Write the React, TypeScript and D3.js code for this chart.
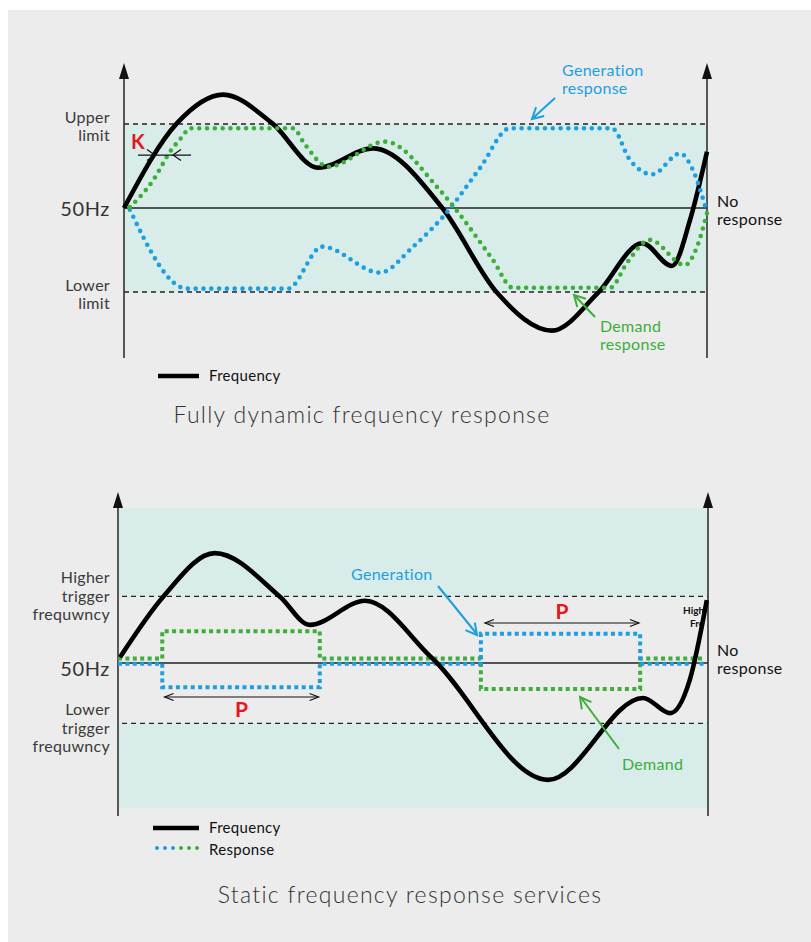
import React from "react";
import * as d3 from "d3";

// ---------------- Top chart: fully dynamic (time 0–100, deviation in units of limit) -------------
const topFreqT = [0, 9.1, 17, 25.4, 33.3, 42.7, 54.6, 64, 73.4, 81.3, 88.9, 94, 97.1, 100];
const topFreqV = [0, 1.01, 1.35, 1.01, 0.48, 0.71, 0, -1.01, -1.46, -1.01, -0.42, -0.69, -0.14, 0.67];

const topDemandT = [1, 5, 7.9, 10, 11.3, 29, 31, 35, 44.8, 54.2, 63.3, 66.7, 83.4, 86.3, 90.2, 96.2, 98.3, 100];
const topDemandV = [0.01, 0.33, 0.67, 0.85, 0.95, 0.95, 0.76, 0.49, 0.79, 0.21, -0.62, -0.95, -0.95, -0.65, -0.38, -0.68, -0.46, -0.06];

const topGenT = [1, 10.8, 28.1, 34, 43.9, 49.6, 55.4, 61.1, 66.2, 83.7, 86.8, 90.6, 95.4, 97.6, 99.7];
const topGenV = [-0.02, -0.96, -0.96, -0.46, -0.77, -0.46, -0.05, 0.48, 0.95, 0.95, 0.57, 0.4, 0.65, 0.45, 0.02];

const topLimits = [1, -1];
const topLimitLabels = [["Upper", "limit"], ["Lower", "limit"]];

// ---------------- Bottom chart: static (time 0–100, deviation) -------------
const botFreqT = [0.34, 7.63, 16.4, 27.5, 32.5, 41.9, 53.2, 72.9, 89.0, 93.6, 96.9, 99.8];
const botFreqV = [0.09, 1.04, 1.73, 1.04, 0.6, 0.98, 0.08, -1.84, -0.55, -0.79, -0.27, 0.99];

const botStepT = [0, 7.5, 34.2, 61.5, 88.5, 99.5];
const botGenV = [-0.01, -0.38, -0.01, 0.46, -0.01, -0.01];
const botDemandV = [0.07, 0.5, 0.07, -0.41, 0.07, 0.07];

const botTriggers = [1.05, -0.95];
const botTriggerLabels = [["Higher", "trigger", "frequwncy"], ["Lower", "trigger", "frequwncy"]];

const BLUE = "#1b9fe2";
const GREEN = "#3dae3a";
const RED = "#e5161e";
const SHADE = "#d8ecea";
const BG = "#ececec";
const FONT = "Lato, 'Open Sans', sans-serif";

function chevron(tx: number, ty: number, fx: number, fy: number, len: number, half: number) {
  const dx = tx - fx, dy = ty - fy;
  const m = Math.hypot(dx, dy) || 1;
  const ux = dx / m, uy = dy / m;
  const nx = -uy, ny = ux;
  const bx = tx - ux * len, by = ty - uy * len;
  return `M${bx + nx * half},${by + ny * half}L${tx},${ty}L${bx - nx * half},${by - ny * half}`;
}

function AxisArrow({ x, top, bottom }: { x: number; top: number; bottom: number }) {
  return (
    <g>
      <line x1={x} x2={x} y1={top + 10} y2={bottom} stroke="#333" strokeWidth={1.6} />
      <path d={`M${x},${top}L${x - 5},${top + 16}L${x + 5},${top + 16}Z`} fill="#111" />
    </g>
  );
}

export default function App() {
  const xT = d3.scaleLinear().domain([0, 100]).range([124, 707]);
  const yT = d3.scaleLinear().domain([-1, 1]).range([292, 124]);
  const xB = d3.scaleLinear().domain([0, 100]).range([118, 708]);
  const yB = d3.scaleLinear().domain([0, 1]).range([663, 599.5]);

  const zip = (ts: number[], vs: number[]) => ts.map((t, i) => [t, vs[i]] as [number, number]);

  const lineT = d3.line<[number, number]>().x(d => xT(d[0])).y(d => yT(d[1])).curve(d3.curveMonotoneX);
  const lineB = d3.line<[number, number]>().x(d => xB(d[0])).y(d => yB(d[1])).curve(d3.curveMonotoneX);
  const stepB = d3.line<[number, number]>().x(d => xB(d[0])).y(d => yB(d[1])).curve(d3.curveStepAfter);

  const dotted = { fill: "none", strokeWidth: 4.6, strokeLinecap: "round" as const, strokeDasharray: "0 7.8" };
  const squares = { fill: "none", strokeWidth: 4, strokeDasharray: "4 3.4" };

  const labelStyle = { fontFamily: FONT, fontSize: 16, fill: "#3a3a3a", letterSpacing: 0.3 };
  const annoSize = 16;

  const kY = yT(0.63);
  const kL = xT(2.4), kR = xT(11.5), kA = xT(5.3), kB = xT(8.4);

  const pLy = 697, pLa = xB(7.9), pLb = xB(34.0);
  const pRy = 623, pRa = xB(62.2), pRb = xB(88.3);

  return (
    <svg width={811} height={942} style={{ position: "absolute", left: 0, top: 0 }}>
      <rect x={0} y={0} width={811} height={942} fill="#fff" />
      <rect x={8} y={10} width={803} height={932} fill={BG} />

      {/* ================= TOP CHART ================= */}
      <rect x={xT(0)} y={yT(1)} width={xT(100) - xT(0)} height={yT(-1) - yT(1)} fill={SHADE} />
      <line x1={xT(0)} x2={xT(100)} y1={yT(0)} y2={yT(0)} stroke="#222" strokeWidth={1.3} />
      {topLimits.map((v, i) => (
        <line key={i} x1={xT(0)} x2={xT(100)} y1={yT(v)} y2={yT(v)} stroke="#222" strokeWidth={1.4} strokeDasharray="5 4" />
      ))}
      <AxisArrow x={xT(0)} top={63} bottom={358} />
      <AxisArrow x={xT(100)} top={63} bottom={358} />

      {topLimitLabels.map((lines, i) => (
        <text key={i} textAnchor="end" {...labelStyle}>
          {lines.map((l, j) => (
            <tspan key={j} x={110} y={(i === 0 ? 123 : 291) + j * 18}>{l}</tspan>
          ))}
        </text>
      ))}
      <text x={110} y={216} textAnchor="end" fontFamily={FONT} fontSize={20} letterSpacing={0.6} fill="#333">50Hz</text>

      <path d={lineT(zip(topFreqT, topFreqV)) || ""} fill="none" stroke="#000" strokeWidth={4.6} strokeLinejoin="round" />
      <path d={lineT(zip(topGenT, topGenV)) || ""} stroke={BLUE} {...dotted} />
      <path d={lineT(zip(topDemandT, topDemandV)) || ""} stroke={GREEN} {...dotted} />

      {/* K annotation */}
      <text x={xT(1.2)} y={yT(0.7)} fontFamily={FONT} fontSize={20} fontWeight={700} fill={RED}>K</text>
      <line x1={kL} x2={kR} y1={kY} y2={kY} stroke="#111" strokeWidth={1.2} />
      <path d={chevron(kA, kY, kL, kY, 8, 5.5)} fill="none" stroke="#111" strokeWidth={1.2} />
      <path d={chevron(kB, kY, kR, kY, 8, 5.5)} fill="none" stroke="#111" strokeWidth={1.2} />

      {/* Generation response label */}
      <text fontFamily={FONT} fontSize={annoSize} letterSpacing={0.3} fill={BLUE}>
        <tspan x={562} y={76}>Generation</tspan>
        <tspan x={562} y={94}>response</tspan>
      </text>
      <line x1={555} y1={98} x2={533} y2={118} stroke={BLUE} strokeWidth={2} />
      <path d={chevron(532, 119, 555, 98, 11, 6)} fill="none" stroke={BLUE} strokeWidth={2} />

      {/* No response */}
      <text fontFamily={FONT} fontSize={annoSize} letterSpacing={0.3} fill="#111">
        <tspan x={717} y={207}>No</tspan>
        <tspan x={717} y={225}>response</tspan>
      </text>

      {/* Demand response */}
      <text fontFamily={FONT} fontSize={annoSize} letterSpacing={0.3} fill={GREEN}>
        <tspan x={600} y={332}>Demand</tspan>
        <tspan x={600} y={350}>response</tspan>
      </text>
      <line x1={595} y1={317} x2={575} y2={296} stroke={GREEN} strokeWidth={2} />
      <path d={chevron(574, 295, 595, 317, 11, 6)} fill="none" stroke={GREEN} strokeWidth={2} />

      {/* legend */}
      <line x1={158} x2={199} y1={376} y2={376} stroke="#000" strokeWidth={4.6} />
      <text x={209} y={381} fontFamily={FONT} fontSize={15} letterSpacing={0.3} fill="#111">Frequency</text>

      <text x={362} y={423} textAnchor="middle" fontFamily={FONT} fontSize={23} fontWeight={300} letterSpacing={1.3} fill="#333">
        Fully dynamic frequency response
      </text>

      {/* ================= BOTTOM CHART ================= */}
      <rect x={xB(0)} y={508} width={xB(100) - xB(0)} height={yB(botTriggers[0]) - 508} fill={SHADE} />
      <text x={683} y={733} fontFamily={FONT} fontSize={10} fontWeight={700} fill="#111">Low</text>
      <rect x={xB(0)} y={yB(botTriggers[1])} width={xB(100) - xB(0)} height={808 - yB(botTriggers[1])} fill={SHADE} />
      <line x1={xB(0)} x2={xB(100)} y1={yB(0)} y2={yB(0)} stroke="#222" strokeWidth={1.3} />
      {botTriggers.map((v, i) => (
        <line key={i} x1={xB(0) + 4} x2={xB(100)} y1={yB(v)} y2={yB(v)} stroke="#222" strokeWidth={1.4} strokeDasharray="5 4" />
      ))}
      <AxisArrow x={xB(0)} top={492} bottom={816} />
      <AxisArrow x={xB(100)} top={492} bottom={816} />

      {botTriggerLabels.map((lines, i) => (
        <text key={i} textAnchor="end" {...labelStyle}>
          {lines.map((l, j) => (
            <tspan key={j} x={110} y={(i === 0 ? 583 : 715) + j * 18.5}>{l}</tspan>
          ))}
        </text>
      ))}
      <text x={110} y={676} textAnchor="end" fontFamily={FONT} fontSize={20} letterSpacing={0.6} fill="#333">50Hz</text>

      <text fontFamily={FONT} fontSize={10} fontWeight={700} fill="#111">
        <tspan x={683} y={614}>High</tspan>
        <tspan x={690} y={627}>Fre</tspan>
      </text>

      <path d={stepB(zip(botStepT, botDemandV)) || ""} stroke={GREEN} {...squares} />
      <path d={stepB(zip(botStepT, botGenV)) || ""} stroke={BLUE} {...squares} />
      <path d={lineB(zip(botFreqT, botFreqV)) || ""} fill="none" stroke="#000" strokeWidth={4.6} strokeLinejoin="round" />

      {/* P annotations */}
      <line x1={pLa} x2={pLb} y1={pLy} y2={pLy} stroke="#111" strokeWidth={1.2} />
      <path d={chevron(pLa, pLy, pLb, pLy, 9, 3.5)} fill="none" stroke="#111" strokeWidth={1.2} />
      <path d={chevron(pLb, pLy, pLa, pLy, 9, 3.5)} fill="none" stroke="#111" strokeWidth={1.2} />
      <text x={(pLa + pLb) / 2} y={717} textAnchor="middle" fontFamily={FONT} fontSize={21} fontWeight={700} fill={RED}>P</text>

      <line x1={pRa} x2={pRb} y1={pRy} y2={pRy} stroke="#111" strokeWidth={1.2} />
      <path d={chevron(pRa, pRy, pRb, pRy, 9, 3.5)} fill="none" stroke="#111" strokeWidth={1.2} />
      <path d={chevron(pRb, pRy, pRa, pRy, 9, 3.5)} fill="none" stroke="#111" strokeWidth={1.2} />
      <text x={(pRa + pRb) / 2} y={619} textAnchor="middle" fontFamily={FONT} fontSize={21} fontWeight={700} fill={RED}>P</text>

      {/* Generation label */}
      <text x={351} y={580} fontFamily={FONT} fontSize={annoSize} letterSpacing={0.3} fill={BLUE}>Generation</text>
      <line x1={438} y1={586} x2={476} y2={633} stroke={BLUE} strokeWidth={2} />
      <path d={chevron(477, 635, 438, 586, 11, 6)} fill="none" stroke={BLUE} strokeWidth={2} />

      {/* No response */}
      <text fontFamily={FONT} fontSize={annoSize} letterSpacing={0.3} fill="#111">
        <tspan x={717} y={656}>No</tspan>
        <tspan x={717} y={674}>response</tspan>
      </text>

      {/* Demand label */}
      <text x={622} y={770} fontFamily={FONT} fontSize={annoSize} letterSpacing={0.3} fill={GREEN}>Demand</text>
      <line x1={619} y1={749} x2={582} y2={699} stroke={GREEN} strokeWidth={2} />
      <path d={chevron(580, 697, 619, 749, 11, 6)} fill="none" stroke={GREEN} strokeWidth={2} />

      {/* legend */}
      <line x1={153} x2={199} y1={828} y2={828} stroke="#000" strokeWidth={4.6} />
      <text x={209} y={833} fontFamily={FONT} fontSize={15} letterSpacing={0.3} fill="#111">Frequency</text>
      <line x1={157} x2={173.5} y1={848} y2={848} stroke={BLUE} fill="none" strokeWidth={4} strokeLinecap="round" strokeDasharray="0 8" />
      <line x1={181} x2={197.5} y1={848} y2={848} stroke={GREEN} fill="none" strokeWidth={4} strokeLinecap="round" strokeDasharray="0 8" />
      <text x={209} y={855} fontFamily={FONT} fontSize={15} letterSpacing={0.3} fill="#111">Response</text>

      <text x={410} y={903} textAnchor="middle" fontFamily={FONT} fontSize={23} fontWeight={300} letterSpacing={1.3} fill="#333">
        Static frequency response services
      </text>
    </svg>
  );
}
